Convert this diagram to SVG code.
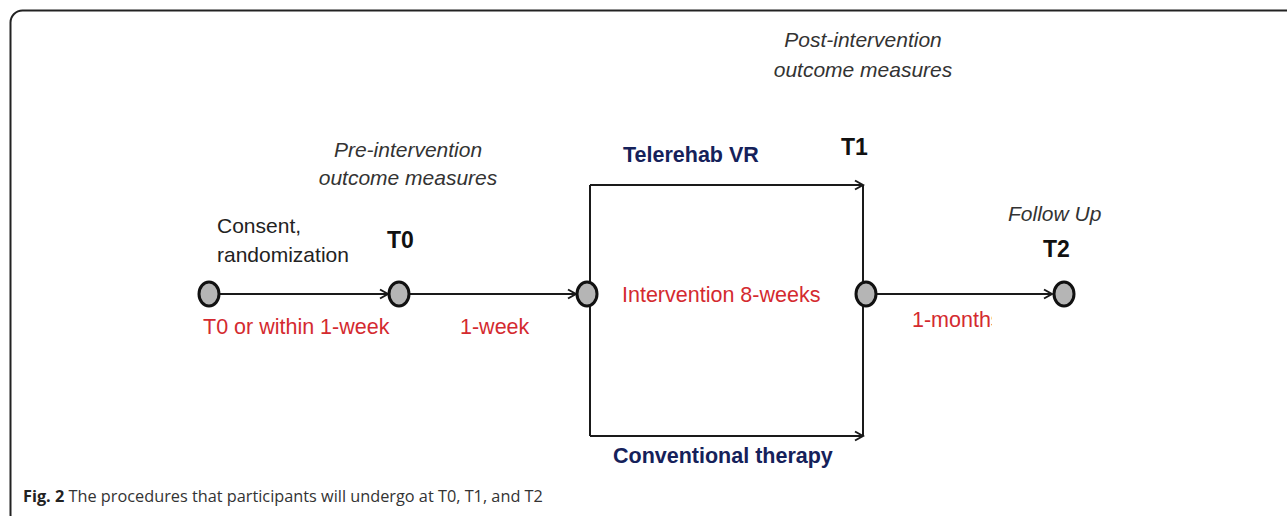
<svg xmlns="http://www.w3.org/2000/svg" width="1287" height="516" viewBox="0 0 1287 516">
<defs>
<style>
.frame{fill:none;stroke:#222;stroke-width:2}
.ln{fill:none;stroke:#1a1a1a;stroke-width:2}
.node{fill:#b5b5b5;stroke:#111;stroke-width:3}
.it{font-family:"Liberation Sans",Arial,sans-serif;font-style:italic;font-size:21px;fill:#333}
.bk{font-family:"Liberation Sans",Arial,sans-serif;font-size:21px;fill:#222}
.tp{font-family:"Liberation Sans",Arial,sans-serif;font-weight:bold;font-size:23px;fill:#111}
.red{font-family:"Liberation Sans",Arial,sans-serif;font-size:21.5px;fill:#d42a2f}
.navy{font-family:"Liberation Sans",Arial,sans-serif;font-weight:bold;font-size:21.5px;fill:#15215a}
.cap{font-family:"Open Sans","Noto Sans",sans-serif;font-size:16.3px;fill:#333}
</style>
<marker id="arr" markerWidth="12" markerHeight="12" refX="10" refY="6" orient="auto" markerUnits="userSpaceOnUse">
<path d="M2,1.5 L10,6 L2,10.5" fill="none" stroke="#1a1a1a" stroke-width="2"/>
</marker>
<clipPath id="clipm"><rect x="900" y="300" width="92" height="40"/></clipPath>
</defs>
<rect class="frame" x="10.5" y="10.5" width="1320" height="516" rx="12"/>
<g id="connectors">
<line class="ln" x1="220" y1="294" x2="388" y2="294" marker-end="url(#arr)"/>
<line class="ln" x1="410" y1="294" x2="576" y2="294" marker-end="url(#arr)"/>
<line class="ln" x1="590" y1="185" x2="590" y2="436"/>
<line class="ln" x1="590" y1="185" x2="863" y2="185" marker-end="url(#arr)"/>
<line class="ln" x1="590" y1="436" x2="863" y2="436" marker-end="url(#arr)"/>
<line class="ln" x1="863" y1="185" x2="863" y2="436"/>
<line class="ln" x1="877" y1="294" x2="1052" y2="294" marker-end="url(#arr)"/>
</g>
<g id="n-start">
<ellipse class="node" cx="209" cy="294" rx="10" ry="12"/>
<text class="bk" x="217" y="233">Consent,</text>
<text class="bk" x="217" y="262">randomization</text>
<text class="red" x="203" y="334">T0 or within 1-week</text>
</g>
<g id="n-t0">
<ellipse class="node" cx="399" cy="294" rx="10" ry="12"/>
<text class="tp" x="387" y="248">T0</text>
<text class="it" x="408" y="157" text-anchor="middle">Pre-intervention</text>
<text class="it" x="408" y="185" text-anchor="middle">outcome measures</text>
<text class="red" x="460" y="334">1-week</text>
</g>
<g id="n-intervention">
<ellipse class="node" cx="587" cy="294" rx="10" ry="12"/>
<text class="red" x="622" y="302">Intervention 8-weeks</text>
<text class="navy" x="623" y="162">Telerehab VR</text>
<text class="navy" x="613" y="463">Conventional therapy</text>
</g>
<g id="n-t1">
<ellipse class="node" cx="866" cy="294" rx="10" ry="12"/>
<text class="tp" x="841" y="155">T1</text>
<text class="it" x="863" y="47" text-anchor="middle">Post-intervention</text>
<text class="it" x="863" y="77" text-anchor="middle">outcome measures</text>
<text class="red" x="912" y="327" clip-path="url(#clipm)">1-months</text>
</g>
<g id="n-t2">
<ellipse class="node" cx="1064" cy="294" rx="10" ry="12"/>
<text class="tp" x="1043" y="257">T2</text>
<text class="it" x="1008" y="221">Follow Up</text>
</g>
<g id="caption">
<text class="cap" x="23" y="502"><tspan font-weight="bold" fill="#222">Fig. 2</tspan> The procedures that participants will undergo at T0, T1, and T2</text>
</g>
</svg>
